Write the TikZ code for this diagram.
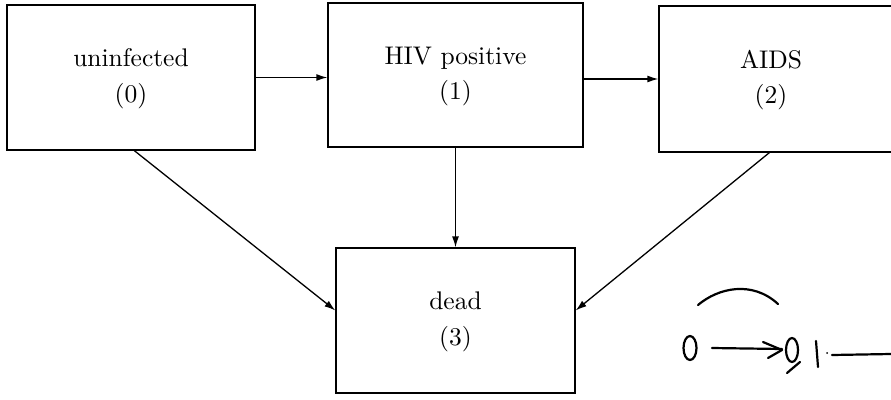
\documentclass[tikz,border=0pt]{standalone}
\usepackage{graphicx}
\usetikzlibrary{arrows.meta}
\newcommand{\bigtxt}[1]{\scalebox{2.55}{\renewcommand{\arraystretch}{1.15}\begin{tabular}{@{}c@{}}#1\end{tabular}}}
\begin{document}
\begin{tikzpicture}[x=1pt,y=-1pt,
  box/.style={draw, line width=1.3pt, inner sep=0pt, align=center},
  lbl/.style={align=center, inner sep=0pt},
  arr/.style={line width=1.3pt, -{Latex[length=11pt,width=7pt]}},
  hand/.style={line width=2.2pt, line cap=round, line join=round}]
\useasboundingbox (0,0) rectangle (891,399);
\node[box, minimum width=248pt, minimum height=145pt] (n0) at (131,77.5) {\bigtxt{uninfected\\(0)}};
\node[box, minimum width=255pt, minimum height=144pt] (n1) at (455.5,75) {\bigtxt{HIV positive\\(1)}};
\node[box, minimum width=260pt, minimum height=146pt] (n2) at (789,79) {};
\node[lbl] (t2) at (771,79) {\bigtxt{AIDS\\(2)}};
\node[box, minimum width=239pt, minimum height=145pt] (n3) at (455.5,320.5) {\bigtxt{dead\\(3)}};
\draw[arr] (n0.east) -- (n1.west |- n0.east);
\draw[arr] (n1.east |- n2.west) -- (n2.west);
\draw[arr] (n1.south) -- (n3.north);
\draw[arr] ([xshift=128pt]n0.south west) -- ([yshift=10pt]n3.west);
\draw[arr] ([xshift=111pt]n2.south west) -- ([yshift=10pt]n3.east);
% handwritten annotation
\draw[hand] (690,348) ellipse [x radius=6.5pt, y radius=12pt];
\draw[hand] (712,348) -- (782,349);
\draw[hand] (763,342) -- (782,350) -- (768,358);
\draw[hand] (792,350) ellipse [x radius=6pt, y radius=12pt];
\draw[hand] (800,362) -- (787,373);
\draw[hand] (816,341) -- (818,367);
\fill (827,353) circle (1pt);
\draw[hand] (832,355) -- (891,354);
\draw[hand] (698,305) .. controls (718,288) and (752,280) .. (778,304);
\end{tikzpicture}
\end{document}
